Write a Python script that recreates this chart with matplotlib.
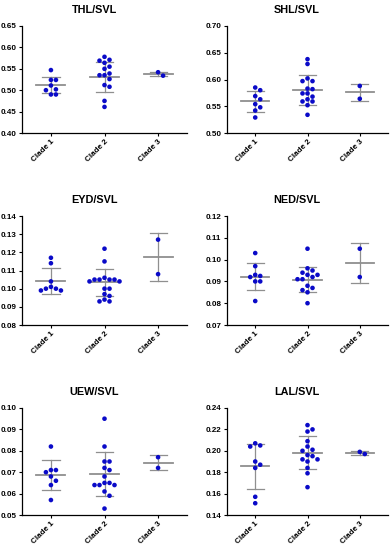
import numpy as np
import matplotlib
matplotlib.use("Agg")
import matplotlib.pyplot as plt

plt.rcParams["font.family"] = ["Liberation Sans", "DejaVu Sans"]
plt.rcParams["font.weight"] = "bold"

clades = ["Clade 1", "Clade 2", "Clade 3"]
titles = ["THL/SVL", "SHL/SVL", "EYD/SVL", "NED/SVL", "UEW/SVL", "LAL/SVL"]

# points per clade
thl = [
    [0.547, 0.524, 0.524, 0.511, 0.500, 0.502, 0.490, 0.490],
    [0.571, 0.578, 0.569, 0.564, 0.550, 0.555, 0.539, 0.535, 0.535, 0.526,
     0.512, 0.508, 0.475, 0.461],
    [0.534, 0.542],
]
shl = [
    [0.585, 0.580, 0.569, 0.563, 0.554, 0.548, 0.542, 0.529],
    [0.638, 0.629, 0.602, 0.597, 0.597, 0.583, 0.582, 0.574, 0.574, 0.563,
     0.568, 0.559, 0.559, 0.552, 0.534],
    [0.588, 0.564],
]
eyd = [
    [0.117, 0.114, 0.104, 0.101, 0.100, 0.099, 0.099, 0.100],
    [0.122, 0.115, 0.105, 0.105, 0.104, 0.104, 0.105, 0.105, 0.106, 0.100,
     0.100, 0.097, 0.096, 0.094, 0.093, 0.093],
    [0.127, 0.108],
]
ned = [
    [0.103, 0.097, 0.093, 0.0925, 0.092, 0.090, 0.090, 0.081],
    [0.105, 0.096, 0.095, 0.094, 0.093, 0.093, 0.092, 0.091, 0.091, 0.088,
     0.087, 0.086, 0.085, 0.080],
    [0.105, 0.092],
]
uew = [
    [0.082, 0.071, 0.071, 0.070, 0.068, 0.066, 0.064, 0.057],
    [0.095, 0.082, 0.075, 0.075, 0.072, 0.071, 0.068, 0.065, 0.065, 0.064,
     0.064, 0.064, 0.061, 0.059, 0.053],
    [0.077, 0.072],
]
lal = [
    [0.207, 0.204, 0.205, 0.190, 0.187, 0.184, 0.157, 0.151],
    [0.224, 0.220, 0.218, 0.209, 0.201, 0.200, 0.204, 0.196, 0.195, 0.192,
     0.192, 0.190, 0.184, 0.179, 0.166],
    [0.197, 0.199],
]

# mean and SD lines as drawn
means = [
    [0.512, 0.531, 0.538],
    [0.559, 0.580, 0.576],
    [0.1043, 0.1036, 0.1174],
    [0.0922, 0.0908, 0.0984],
    [0.0687, 0.0690, 0.0745],
    [0.1855, 0.1983, 0.1979],
]
sds = [
    [0.019, 0.036, 0.004],
    [0.0195, 0.0285, 0.0165],
    [0.0070, 0.0075, 0.0134],
    [0.0062, 0.0056, 0.0091],
    [0.0072, 0.0103, 0.0037],
    [0.0213, 0.0157, 0.0019],
]

yticks = [
    [0.40, 0.45, 0.50, 0.55, 0.60, 0.65],
    [0.50, 0.55, 0.60, 0.65, 0.70],
    [0.08, 0.09, 0.10, 0.11, 0.12, 0.13, 0.14],
    [0.07, 0.08, 0.09, 0.10, 0.11, 0.12],
    [0.05, 0.06, 0.07, 0.08, 0.09, 0.10],
    [0.14, 0.16, 0.18, 0.20, 0.22, 0.24],
]

data = [thl, shl, eyd, ned, uew, lal]


def swarm(vals, ypix_per_unit, step, diam):
    # simple beeswarm: center first, then alternate sides
    order = np.argsort(vals)[::-1]
    placed = []
    offs = np.zeros(len(vals))
    for i in order:
        y = vals[i] * ypix_per_unit
        for k in [0, 1, -1, 2, -2, 3, -3, 4, -4]:
            x = k * step
            ok = all((x - px) ** 2 + (y - py) ** 2 >= diam ** 2 for px, py in placed)
            if ok:
                placed.append((x, y))
                offs[i] = k
                break
    return offs


W, H = 392, 550
fig = plt.figure(figsize=(W / 100, H / 100), dpi=100)

col_left = [22, 227]
col_width = [165, 161]
row_top = [26, 216, 408]
row_h = [107, 109, 107]
title_px = [94, 297]
gray = "#8f8f8f"
blue = "#0a0ac8"

for n in range(6):
    r, c = divmod(n, 2)
    l, w = col_left[c], col_width[c]
    t, h = row_top[r], row_h[r]
    ax = fig.add_axes([l / W, 1 - (t + h) / H, w / W, h / H])
    ticks = yticks[n]
    ylo, yhi = ticks[0], ticks[-1]
    ax.set_xlim(0.46, 3.54)
    ax.set_ylim(ylo, yhi)
    xu = w / 3.08  # px per category unit
    ypu = h / (yhi - ylo)
    for j in range(3):
        vals = np.array(data[n][j])
        offs = swarm(vals, ypu, 5.0, 4.8)
        xs = (j + 1) + offs * 5.0 / xu
        m, s = means[n][j], sds[n][j]
        ax.plot([j + 1 - 0.27, j + 1 + 0.27], [m, m], color=gray, lw=1.3, zorder=1)
        ax.plot([j + 1, j + 1], [m - s, m + s], color=gray, lw=0.9, zorder=1)
        for yy in (m - s, m + s):
            ax.plot([j + 1 - 0.16, j + 1 + 0.16], [yy, yy], color=gray, lw=0.9, zorder=1)
        ax.scatter(xs, vals, s=11, color=blue, edgecolor="none", zorder=3)
    ax.set_yticks(ticks)
    ax.set_yticklabels(["%.2f" % v for v in ticks])
    ax.set_xticks([1, 2, 3])
    ax.set_xticklabels(clades, rotation=45, ha="right", rotation_mode="anchor")
    ax.tick_params(axis="both", labelsize=5.8, length=2.5, width=0.8, pad=1.5)
    for sp in ("top", "right"):
        ax.spines[sp].set_visible(False)
    for sp in ("left", "bottom"):
        ax.spines[sp].set_linewidth(0.9)
    ax.text((title_px[c] - l) / w, 1 + 16 / h, titles[n], transform=ax.transAxes,
            ha="center", va="center", fontsize=7.8, fontweight="bold")

fig.savefig("out.png", dpi=100)
